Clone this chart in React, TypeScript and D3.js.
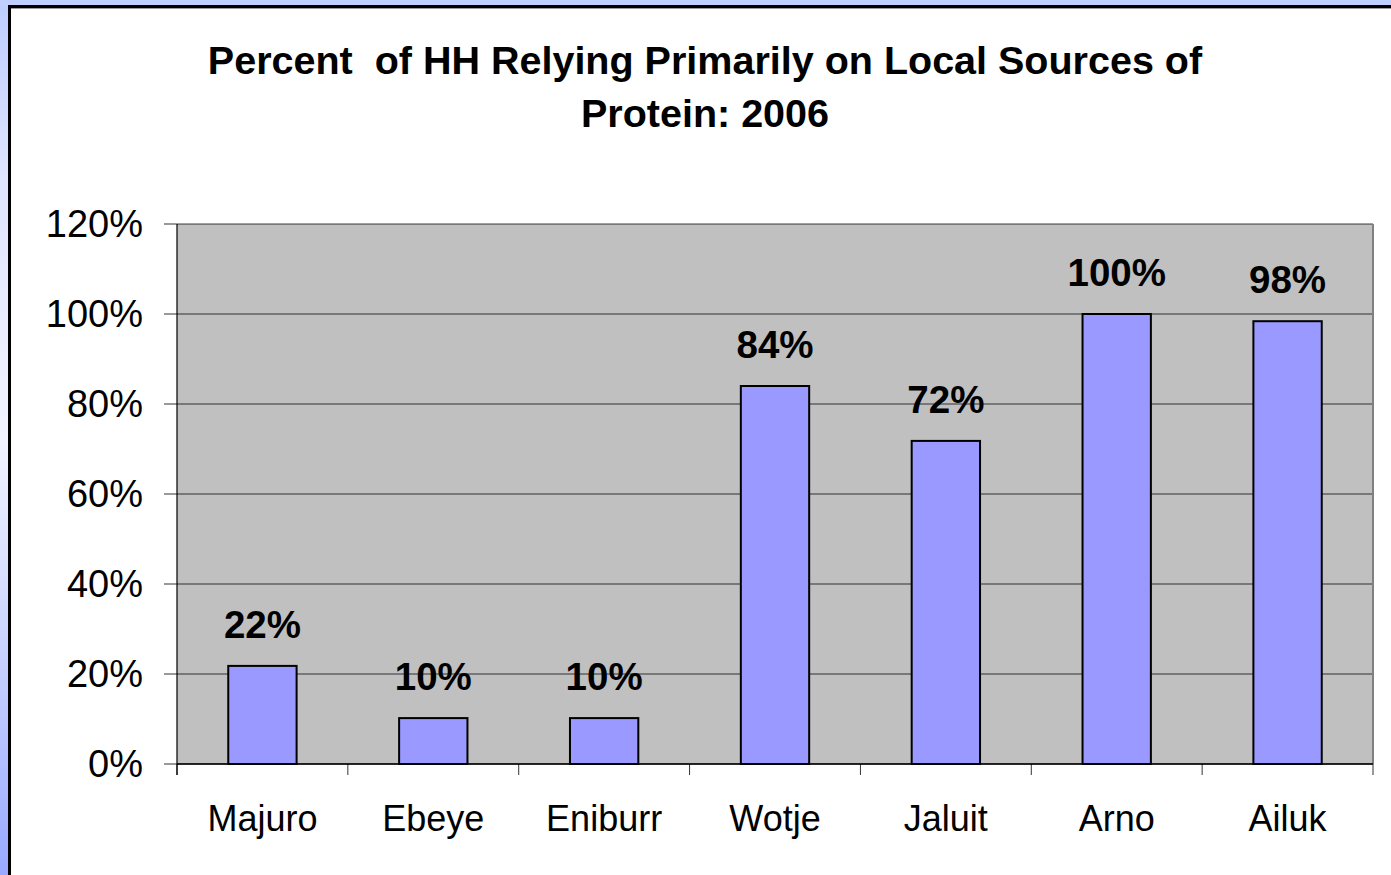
import React from "react";
import * as d3 from "d3";

const categories = ["Majuro", "Ebeye", "Eniburr", "Wotje", "Jaluit", "Arno", "Ailuk"];
const values = [0.218, 0.102, 0.102, 0.84, 0.718, 1.0, 0.984];
const yTicks = [0, 0.2, 0.4, 0.6, 0.8, 1.0, 1.2];
const titleLines = ["Percent  of HH Relying Primarily on Local Sources of", "Protein: 2006"];

const W = 1391;
const H = 875;
const plot = { left: 177, right: 1373, top: 224, bottom: 764 };

export default function App() {
  const x = d3.scaleBand<string>().domain(categories).range([plot.left, plot.right]).padding(0);
  const y = d3.scaleLinear().domain([0, 1.2]).range([plot.bottom, plot.top]);
  const fmt = d3.format(".0%");
  const bw = x.bandwidth() * 0.4;
  const font = "'Liberation Sans', Arial, sans-serif";

  return (
    <svg width={W} height={H} style={{ position: "fixed", left: 0, top: 0 }} fontFamily={font}>
      <defs>
        <linearGradient id="bg" x1="0" y1="0" x2="0" y2="1">
          <stop offset="0" stopColor="#bccdff" />
          <stop offset="0.2" stopColor="#dfe5ff" />
          <stop offset="0.5" stopColor="#f2f4ff" />
          <stop offset="0.75" stopColor="#c8d2ff" />
          <stop offset="1" stopColor="#98a9ff" />
        </linearGradient>
      </defs>
      <rect x={0} y={0} width={W} height={H} fill="url(#bg)" />
      <rect x={0} y={0} width={W} height={6} fill="#bfcfff" />
      {/* chart frame */}
      <rect x={9.5} y={6.5} width={W + 10} height={H + 10} fill="#ffffff" stroke="#000000" strokeWidth={3} />
      <line x1={11} x2={W} y1={8.5} y2={8.5} stroke="#999999" strokeWidth={1} />

      {/* title */}
      {titleLines.map((t, i) => (
        <text key={i} x={705} y={74 + i * 53} textAnchor="middle" fontSize={39.5} fontWeight="bold" fill="#000" xmlSpace="preserve" style={{ whiteSpace: "pre" }}>
          {t}
        </text>
      ))}

      {/* plot area */}
      <rect x={plot.left} y={plot.top} width={plot.right - plot.left} height={plot.bottom - plot.top} fill="#c0c0c0" />
      {yTicks.map((t) => (
        <line key={"g" + t} x1={plot.left} x2={plot.right} y1={y(t)} y2={y(t)} stroke="#000" strokeWidth={1} strokeOpacity={0.75} />
      ))}
      <line x1={plot.right} x2={plot.right} y1={plot.top} y2={plot.bottom} stroke="#808080" strokeWidth={2} />
      <line x1={plot.left} x2={plot.left} y1={plot.top} y2={plot.bottom + 11} stroke="#000" strokeWidth={1.5} strokeOpacity={0.8} />

      {/* y ticks and labels */}
      {yTicks.map((t) => (
        <g key={"y" + t}>
          <line x1={plot.left - 13} x2={plot.left} y1={y(t)} y2={y(t)} stroke="#000" strokeWidth={1} strokeOpacity={0.8} />
          <text x={143} y={y(t) + 13} textAnchor="end" fontSize={38} fill="#000">
            {fmt(t)}
          </text>
        </g>
      ))}

      {/* bars */}
      {categories.map((c, i) => {
        const cx = (x(c) as number) + x.bandwidth() / 2;
        return (
          <g key={c}>
            <rect x={cx - bw / 2} y={y(values[i])} width={bw} height={plot.bottom - y(values[i])} fill="#9999ff" stroke="#000" strokeWidth={2} />
            <text x={cx} y={y(values[i]) - 28} textAnchor="middle" fontSize={38.5} fontWeight="bold" fill="#000">
              {fmt(values[i])}
            </text>
            <text x={cx} y={831} textAnchor="middle" fontSize={36} fill="#000">
              {c}
            </text>
          </g>
        );
      })}

      {/* x axis */}
      <line x1={plot.left} x2={plot.right} y1={plot.bottom} y2={plot.bottom} stroke="#000" strokeWidth={1.5} />
      {d3.range(categories.length + 1).map((k) => {
        const xx = plot.left + k * x.bandwidth();
        return <line key={"xt" + k} x1={xx} x2={xx} y1={plot.bottom} y2={plot.bottom + 11} stroke="#000" strokeWidth={1} strokeOpacity={0.8} />;
      })}
    </svg>
  );
}
